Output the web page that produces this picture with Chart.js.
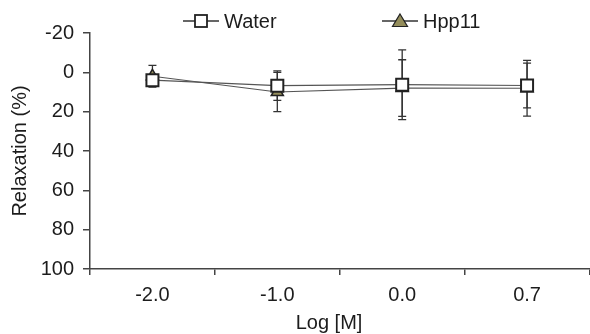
<!DOCTYPE html>
<html>
<head>
<meta charset="utf-8">
<script src="https://cdn.jsdelivr.net/npm/chart.js@4"></script>
<style>
  html, body { margin: 0; padding: 0; background: #fff; overflow: hidden; }
  #wrap { width: 600px; height: 334px; }
</style>
</head>
<body>
<div id="wrap"><canvas id="chart" width="600" height="334"></canvas></div>
<script>
// data
const categories = ['-2.0', '-1.0', '0.0', '0.7'];
const waterMean = [4, 6.8, 6.3, 6.7];
const waterSd = [2, 7.5, 17.7, 11.4];
const hppMean = [2, 10, 8, 8.1];
const hppSd = [5.5, 10, 14.4, 14.2];
const yTicks = [-20, 0, 20, 40, 60, 80, 100];

const FONT = '"Liberation Sans", Arial, sans-serif';
const TXT = '#1c1c1c';
const AXIS = '#444';
const OLIVE = '#948d5b';

const sds = [waterSd, hppSd];

// error bars, drawn under the markers
const errorBars = {
  id: 'errorBars',
  beforeDatasetsDraw(chart) {
    const { ctx, scales: { y } } = chart;
    ctx.save();
    ctx.strokeStyle = '#333';
    ctx.lineWidth = 1.3;
    chart.data.datasets.forEach((ds, di) => {
      const meta = chart.getDatasetMeta(di);
      ds.data.forEach((v, i) => {
        const x = meta.data[i].x;
        const top = y.getPixelForValue(v - sds[di][i]);
        const bot = y.getPixelForValue(v + sds[di][i]);
        ctx.beginPath();
        ctx.moveTo(x, top); ctx.lineTo(x, bot);
        ctx.moveTo(x - 4, top); ctx.lineTo(x + 4, top);
        ctx.moveTo(x - 4, bot); ctx.lineTo(x + 4, bot);
        ctx.stroke();
      });
    });
    ctx.restore();
  }
};

// legend (line-marker-line) and the x axis title
const extras = {
  id: 'extras',
  afterDraw(chart) {
    const { ctx } = chart;
    ctx.save();
    ctx.font = '20px ' + FONT;
    ctx.fillStyle = TXT;
    ctx.textBaseline = 'middle';
    ctx.textAlign = 'left';
    const ly = 21;

    // Water
    ctx.strokeStyle = '#333';
    ctx.lineWidth = 1.3;
    ctx.beginPath(); ctx.moveTo(183, ly); ctx.lineTo(219, ly); ctx.stroke();
    ctx.fillStyle = '#fff';
    ctx.fillRect(195, ly - 6, 12, 12);
    ctx.strokeStyle = '#222';
    ctx.lineWidth = 1.8;
    ctx.strokeRect(195, ly - 6, 12, 12);
    ctx.fillStyle = TXT;
    ctx.fillText('Water', 224, ly + 1);

    // Hpp11
    ctx.strokeStyle = '#333';
    ctx.lineWidth = 1.3;
    ctx.beginPath(); ctx.moveTo(382, ly); ctx.lineTo(418, ly); ctx.stroke();
    ctx.beginPath();
    ctx.moveTo(400, ly - 7); ctx.lineTo(407.5, ly + 5.5); ctx.lineTo(392.5, ly + 5.5); ctx.closePath();
    ctx.fillStyle = OLIVE;
    ctx.fill();
    ctx.strokeStyle = '#222';
    ctx.lineWidth = 1.2;
    ctx.stroke();
    ctx.fillStyle = TXT;
    ctx.fillText('Hpp11', 423, ly + 1);

    // x title
    ctx.textAlign = 'center';
    ctx.fillText('Log [M]', 329, 323);
    ctx.restore();
  }
};

new Chart(document.getElementById('chart').getContext('2d'), {
  type: 'line',
  data: {
    labels: categories,
    datasets: [
      {
        label: 'Water',
        data: waterMean,
        borderColor: '#555',
        borderWidth: 1.2,
        pointStyle: 'rect',
        pointRadius: 8.5,
        pointBackgroundColor: '#fff',
        pointBorderColor: '#222',
        pointBorderWidth: 2,
        tension: 0
      },
      {
        label: 'Hpp11',
        data: hppMean,
        borderColor: '#555',
        borderWidth: 1.2,
        pointStyle: 'triangle',
        pointRadius: 7,
        pointBackgroundColor: OLIVE,
        pointBorderColor: '#222',
        pointBorderWidth: 1.5,
        tension: 0
      }
    ]
  },
  options: {
    responsive: false,
    animation: false,
    devicePixelRatio: 1,
    layout: { padding: { top: 33, right: 2, left: 0, bottom: 0 } },
    plugins: {
      legend: { display: false },
      tooltip: { enabled: false }
    },
    scales: {
      x: {
        type: 'category',
        offset: true,
        grid: { offset: true, drawOnChartArea: false, tickLength: 6, color: AXIS, lineWidth: 1.5 },
        border: { color: AXIS, width: 1.5 },
        ticks: { color: TXT, font: { family: FONT, size: 20 }, padding: 8, maxRotation: 0 },
        afterFit(scale) { scale.height = 65; }
      },
      y: {
        min: -20,
        max: 100,
        reverse: true,
        afterBuildTicks(scale) { scale.ticks = yTicks.map(v => ({ value: v })); },
        grid: { drawOnChartArea: false, tickLength: 7, color: AXIS, lineWidth: 1.5 },
        border: { color: AXIS, width: 1.5 },
        ticks: { color: TXT, font: { family: FONT, size: 20 }, padding: 9 },
        title: {
          display: true,
          text: 'Relaxation (%)',
          color: TXT,
          font: { family: FONT, size: 20 },
          padding: { top: 8, bottom: 0 }
        },
        afterFit(scale) { scale.width = 90; }
      }
    }
  },
  plugins: [errorBars, extras]
});
</script>
</body>
</html>
